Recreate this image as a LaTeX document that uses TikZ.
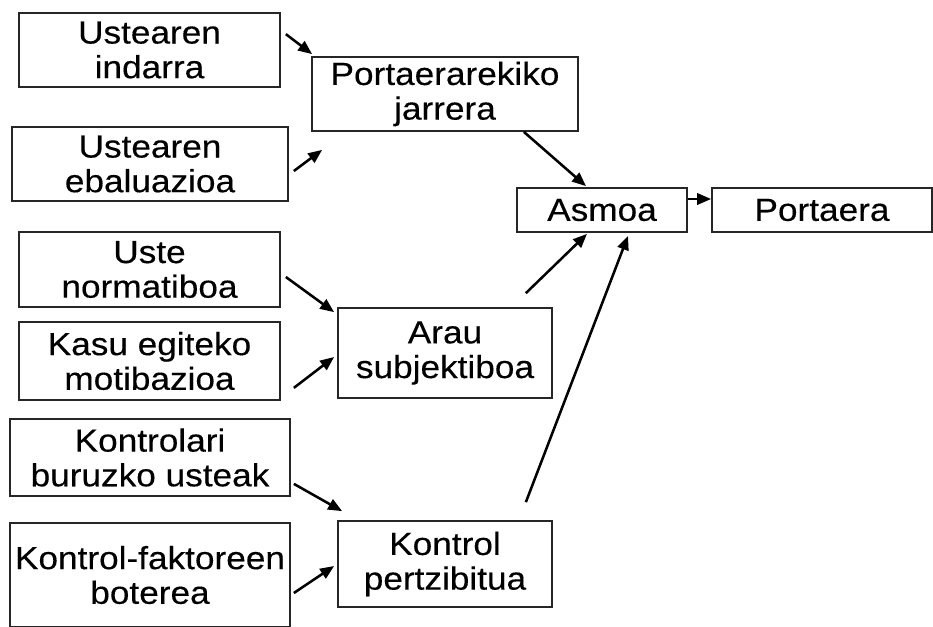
\documentclass[tikz,border=0pt]{standalone}
\usepackage{fontspec}
\setmainfont{Liberation Sans}[FakeStretch=1.1,FakeBold=0.3]
\usetikzlibrary{arrows.meta,calc}
\begin{document}
\begin{tikzpicture}[x=0.75pt,y=-0.75pt,
  box/.style={draw=black!85,line width=1.3pt,rectangle,inner sep=0pt,align=center,
    font=\fontsize{24}{26}\selectfont},
  arr/.style={line width=1.9pt,-{Triangle[length=10.5pt,width=8.5pt]}}]
\useasboundingbox (0,0) rectangle (933,626);
\begin{scope}
\clip (0,0) rectangle (933,626);
\node[box,minimum width=261*0.75pt,minimum height=74*0.75pt] (ui) at (149.5,50) {Ustearen\\indarra};
\node[box,minimum width=266*0.75pt,minimum height=74*0.75pt] (pj) at (445,94) {Portaerarekiko\\jarrera};
\node[box,minimum width=276*0.75pt,minimum height=74*0.75pt] (ue) at (150,164) {Ustearen\\ebaluazioa};
\node[box,minimum width=170*0.75pt,minimum height=44*0.75pt] (asmoa) at (602,210) {Asmoa};
\node[box,minimum width=220*0.75pt,minimum height=44*0.75pt] (portaera) at (822,210) {Portaera};
\node[box,minimum width=261*0.75pt,minimum height=75*0.75pt] (un) at (149.5,269.5) {Uste\\normatiboa};
\node[box,minimum width=261*0.75pt,minimum height=78*0.75pt] (kasu) at (149.5,361) {Kasu egiteko\\motibazioa};
\node[box,minimum width=214*0.75pt,minimum height=90*0.75pt] (arau) at (445,353) {Arau\\subjektiboa};
\node[box,minimum width=280*0.75pt,minimum height=77*0.75pt] (kbu) at (150,457.5) {Kontrolari\\buruzko usteak};
\node[box,minimum width=280*0.75pt,minimum height=104*0.75pt] (kfb) at (150,575) {Kontrol-faktoreen\\boterea};
\node[box,minimum width=214*0.75pt,minimum height=86*0.75pt] (kp) at (445,564) {Kontrol\\pertzibitua};

\draw[arr] ($(ui.north east)+(5,22)$) -- ($(pj.north west)+(1,-2)$);
\draw[arr] ($(ue.east)+(5,7)$) -- ($(pj.south west)+(11,18)$);
\draw[arr] ($(pj.south east)+(-55,0)$) -- ($(asmoa.north)+(-16,-1)$);
\draw[arr] ($(asmoa.east)+(0,-11)$) -- ($(portaera.west)+(0,-11)$);
\draw[arr] ($(un.east)+(5,7.5)$) -- ($(arau.north west)+(-3,5)$);
\draw[arr] ($(kasu.south east)+(13,-13)$) -- ($(arau.west)+(-3,4)$);
\draw[arr] ($(arau.north east)+(-27,-14)$) -- ($(asmoa.south)+(-15,1)$);
\draw[arr] ($(kbu.south east)+(3,-13)$) -- ($(kp.north west)+(5,-9)$);
\draw[arr] ($(kfb.east)+(3,18)$) -- ($(kp.west)+(-3,2)$);
\draw[arr] ($(kp.north east)+(-27,-18)$) -- ($(asmoa.south)+(26,3)$);
\end{scope}
\end{tikzpicture}
\end{document}
